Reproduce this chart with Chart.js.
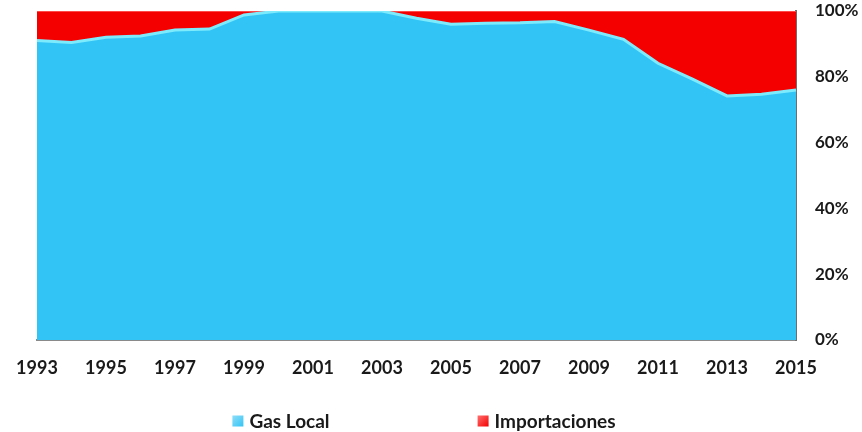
<!DOCTYPE html>
<html>
<head>
<meta charset="utf-8">
<title>Gas Local / Importaciones</title>
<script src="https://cdn.jsdelivr.net/npm/chart.js@4.4.1/dist/chart.umd.min.js"></script>
<style>
    html, body { margin: 0; padding: 0; background: #fff; }
    #wrap { width: 862px; height: 432px; position: relative; }
</style>
</head>
<body>
<div id="wrap"><canvas id="chart_gas"></canvas></div>
<script>
"use strict";

// participación (%) en la oferta de gas, por año
var years = ['1993', '1994', '1995', '1996', '1997', '1998', '1999', '2000', '2001', '2002', '2003', '2004',
             '2005', '2006', '2007', '2008', '2009', '2010', '2011', '2012', '2013', '2014', '2015'];
var gasLocal = [91.0, 90.4, 92.0, 92.4, 94.2, 94.5, 98.8, 100, 100, 100, 100, 97.8,
                96.0, 96.3, 96.4, 96.8, 94.2, 91.4, 84.1, 79.3, 74.2, 74.7, 76.0];
var importaciones = [9.0, 9.6, 8.0, 7.6, 5.8, 5.5, 1.2, 0, 0, 0, 0, 2.2,
                     4.0, 3.7, 3.6, 3.2, 5.8, 8.6, 15.9, 20.7, 25.8, 25.3, 24.0];
var pctTicks = [0, 20, 40, 60, 80, 100];

var FONT = 'Lato, "Open Sans", sans-serif';
var INK = '#1a1a1a';

// leyenda en una fila bajo el gráfico, con cuadritos biselados
var bottomLegend = {
    id: 'bottomLegend',
    afterDraw: function (chart) {
        var ctx = chart.ctx;
        var sets = chart.data.datasets;
        var box = 11, gap = 6, spacing = 148;
        ctx.save();
        ctx.font = 'bold 19px ' + FONT;
        ctx.textBaseline = 'middle';
        ctx.textAlign = 'left';
        var widths = sets.map(function (d) { return box + gap + ctx.measureText(d.label).width; });
        var total = widths.reduce(function (a, b) { return a + b; }, 0) + spacing * (sets.length - 1);
        var x = 424 - total / 2;
        var y = 421;
        sets.forEach(function (d, i) {
            var g = ctx.createLinearGradient(x, y - box / 2, x + box, y + box / 2);
            g.addColorStop(0, d.legendLight);
            g.addColorStop(1, d.backgroundColor);
            ctx.fillStyle = g;
            ctx.fillRect(x, y - box / 2, box, box);
            ctx.fillStyle = INK;
            ctx.fillText(d.label, x + box + gap, y + 1);
            x += widths[i] + spacing;
        });
        ctx.restore();
    }
};

var ctx = document.getElementById('chart_gas');
var myChart = new Chart(ctx, {
    type: 'line',
    data: {
        labels: years,
        datasets: [{
            label: 'Gas Local',
            data: gasLocal,
            fill: 'origin',
            backgroundColor: '#33C4F6',
            borderColor: '#7EEBFC',
            legendLight: '#8FDDF8',
            borderWidth: 3,
            pointRadius: 0,
            tension: 0
        }, {
            label: 'Importaciones',
            data: importaciones,
            fill: '-1',
            backgroundColor: '#F40000',
            borderColor: '#FF4A4A',
            legendLight: '#FF7070',
            borderWidth: 2,
            pointRadius: 0,
            tension: 0
        }]
    },
    options: {
        responsive: true,
        maintainAspectRatio: false,
        animation: false,
        events: [],
        layout: { padding: { left: 37, top: 11, right: 0, bottom: 0 } },
        plugins: {
            legend: { display: false },
            tooltip: { enabled: false }
        },
        scales: {
            x: {
                type: 'category',
                offset: false,
                grid: { display: false, drawTicks: false },
                border: { display: true, color: '#8a8a8a', width: 2 },
                ticks: {
                    autoSkip: false,
                    maxRotation: 0,
                    padding: 17,
                    color: INK,
                    font: { family: FONT, size: 18, weight: 'bold' },
                    callback: function (value, index) {
                        return index % 2 === 0 ? this.getLabelForValue(value) : '';
                    }
                },
                afterFit: function (scale) {
                    scale.height = 92;
                    scale.paddingLeft = 0;
                    scale.paddingRight = 0;
                }
            },
            y: {
                position: 'right',
                stacked: true,
                min: 0,
                max: 100,
                grid: { display: false, drawTicks: false },
                border: { display: true, color: '#6e6e6e', width: 2 },
                afterBuildTicks: function (scale) {
                    scale.ticks = pctTicks.map(function (v) { return { value: v }; });
                },
                ticks: {
                    padding: 19,
                    color: INK,
                    font: { family: FONT, size: 17, weight: 'bold' },
                    callback: function (value) { return value + '%'; }
                },
                afterFit: function (scale) {
                    scale.width = 66;
                    scale.paddingTop = 0;
                    scale.paddingBottom = 0;
                }
            }
        }
    },
    plugins: [bottomLegend]
});
</script>
</body>
</html>
